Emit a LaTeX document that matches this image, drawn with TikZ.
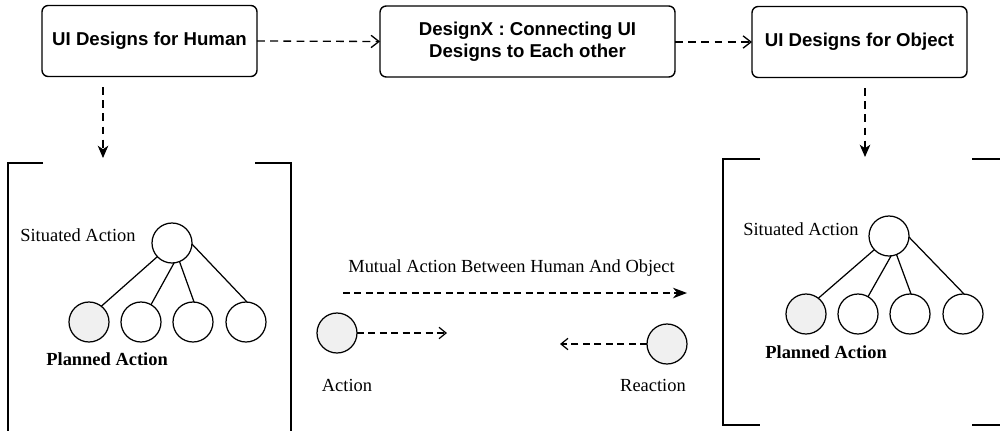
\documentclass[tikz,border=0pt]{standalone}
\usepackage{fontspec}
\setmainfont{Liberation Serif}
\newfontfamily\boxfont{Liberation Sans}
\usetikzlibrary{arrows.meta}
\begin{document}
\begin{tikzpicture}[x=0.02cm,y=-0.02cm,
  design/.style={draw, line width=0.8pt, rounded corners=3.5pt, inner sep=0pt, outer sep=0pt,
    minimum height=1.42cm, align=center, font=\boxfont\bfseries\fontsize{10.6}{12.6}\selectfont},
  act/.style={draw, circle, line width=0.7pt, minimum size=0.8cm, inner sep=0pt, outer sep=0pt},
  planned/.style={act, fill=gray!12},
  lbl/.style={inner sep=0pt, font=\fontsize{10.5}{12}\selectfont},
  blbl/.style={lbl, font=\bfseries\fontsize{10.5}{12}\selectfont},
  flowopen/.style={dash pattern=on 4.5pt off 3pt, line width=0.75pt,
    -{Straight Barb[length=4.5pt,width=7pt,line width=0.75pt]}},
  flowdown/.style={dash pattern=on 4.5pt off 3pt, line width=0.75pt,
    -{Stealth[length=7pt,width=6pt,inset=2pt]}},
  flowsmall/.style={dash pattern=on 4pt off 2.5pt, line width=0.7pt,
    -{Straight Barb[length=4pt,width=6.5pt,line width=0.7pt]}},
  flowmutual/.style={dash pattern=on 4pt off 2.5pt, line width=0.7pt,
    -{Stealth[length=8pt,width=6pt,inset=2.5pt]}},
  frame/.style={line width=0.75pt},
  tree/.style={line width=0.7pt}]
\useasboundingbox (0,0) rectangle (1000,430);
\clip (0,0) rectangle (1000,430);

% top row of design boxes
\node[design, minimum width=4.3cm] (b1) at (149.5,41) {UI Designs for Human};
\node[design, minimum width=5.9cm] (b2) at (527.5,41.5) {DesignX : Connecting UI\\Designs to Each other};
\node[design, minimum width=4.3cm] (b3) at (859.5,42) {UI Designs for Object};

\draw[flowopen] (b1.east) -- (b2.west);
\draw[flowopen] (b2.east |- b3.west) -- (b3.west);

% inlets of the two frames
\coordinate (lin) at (103,158);
\coordinate (rin) at (865,157);
\draw[flowdown] ([yshift=-6pt]b1.south -| lin) -- (lin);
\draw[flowdown] ([yshift=-6pt]b3.south -| rin) -- (rin);

% left frame (open brackets)
\draw[frame] (43,163) -- (8,163) -- (8,440);
\draw[frame] (255,163) -- (291,163) -- (291,440);

% right frame
\draw[frame] (760,159) -- (723,159) -- (723,425) -- (760,425);
\draw[frame] (972,159) -- (1010,159);
\draw[frame] (972,425) -- (1010,425);

% left action tree
\node[act] (lroot) at (172,243) {};
\node[planned] (lc1) at (89,322) {};
\node[act] (lc2) at (141,322) {};
\node[act] (lc3) at (193,322) {};
\node[act] (lc4) at (246,322) {};
\draw[tree] (lroot.-137) -- (lc1.52);
\draw[tree] (lroot.-84) -- (lc2.60);
\draw[tree] (lroot.-68) -- (lc3.87);
\draw[tree] (lroot.-3) -- (lc4.87);
\node[lbl, anchor=west] (lsit) at (20,235) {Situated Action};
\node[blbl, anchor=west] (lplan) at (46,359) {Planned Action};

% right action tree
\node[act] (rroot) at (889,236) {};
\node[planned] (rc1) at (806,314) {};
\node[act] (rc2) at (858,314) {};
\node[act] (rc3) at (910,314) {};
\node[act] (rc4) at (963,314) {};
\draw[tree] (rroot.-137) -- (rc1.52);
\draw[tree] (rroot.-84) -- (rc2.60);
\draw[tree] (rroot.-68) -- (rc3.87);
\draw[tree] (rroot.-3) -- (rc4.87);
\node[lbl, anchor=west] (rsit) at (743,229) {Situated Action};
\node[blbl, anchor=west] (rplan) at (765,352) {Planned Action};

% mutual action between the frames
\coordinate (mutA) at (343,293);
\coordinate (mutB) at (687,293);
\draw[flowmutual] (mutA) -- (mutB);
\node[lbl, anchor=west] (mutlbl) at (348,268) {Mutual Action Between Human And Object};

\node[planned] (action) at (337,333) {};
\coordinate (actend) at (447,333);
\draw[flowsmall] (action) -- (actend);
\node[lbl] (actlbl) at (347,385) {Action};

\node[planned] (reaction) at (667,344) {};
\coordinate (reactend) at (560,344);
\draw[flowsmall] (reaction) -- (reactend);
\node[lbl] (reactlbl) at (653,385) {Reaction};
\end{tikzpicture}
\end{document}
